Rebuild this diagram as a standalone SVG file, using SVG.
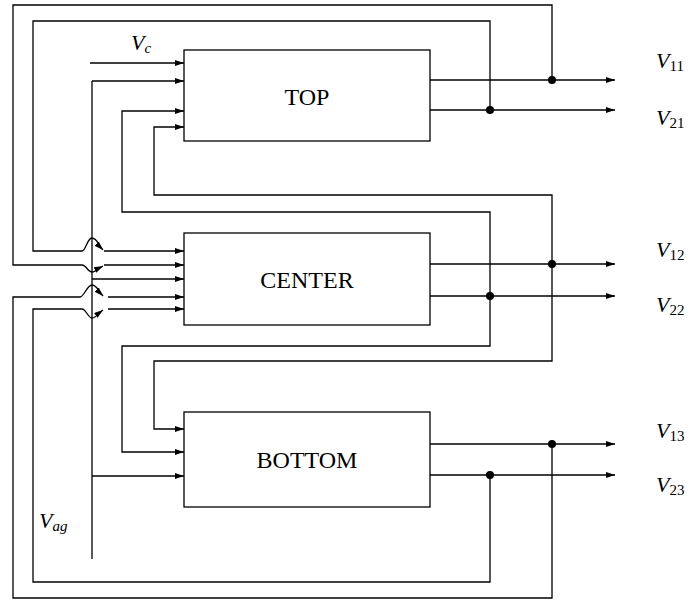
<svg xmlns="http://www.w3.org/2000/svg" width="693" height="601" viewBox="0 0 693 601">
<style>
.w{fill:none;stroke:#000;stroke-width:1.3}
.a{marker-end:url(#arr)}
.box{fill:#fff;stroke:#000;stroke-width:1.3}
.bt{font-family:"Liberation Serif",serif;font-size:24px;text-anchor:middle;fill:#000}
.v{font-family:"Liberation Serif",serif;font-size:22px;font-style:italic;fill:#000}
.s{font-size:15px;font-style:normal}
.si{font-size:15px;font-style:italic}
.d{fill:#000}
</style>
<defs>
<marker id="arr" markerUnits="userSpaceOnUse" markerWidth="10" markerHeight="8" refX="9" refY="3" orient="auto">
<path d="M0,0 L9,3 L0,6 z" fill="#000"/>
</marker>
</defs>
<rect width="693" height="601" fill="#fff"/>
<g id="connectors">
<path class="w a" d="M90,63 H184"/>
<path class="w" d="M92,559 V81"/>
<path class="w a" d="M92,81 H184"/>
<path class="w a" d="M92,279 H184"/>
<path class="w a" d="M92,476 H184"/>
<path class="w a" d="M430,80 H615"/>
<path class="w a" d="M430,110 H615"/>
<path class="w a" d="M430,264 H615"/>
<path class="w a" d="M430,296 H615"/>
<path class="w a" d="M430,444 H615"/>
<path class="w a" d="M430,475 H615"/>
<path class="w a" d="M552,80 V5 H13 V265 H82 C86,265 88,272 92,272 C96,272 99,268 103,266"/>
<path class="w a" d="M104,265 H184"/>
<path class="w a" d="M490,110 V21 H33 V251 H82 C86,251 87,238 92,238 C97,238 99,246 103,250"/>
<path class="w a" d="M104,251 H184"/>
<path class="w a" d="M552,264 V195 H154 V127 H184"/>
<path class="w a" d="M552,264 V361 H154 V429 H184"/>
<path class="w a" d="M490,296 V212 H122 V111 H184"/>
<path class="w a" d="M490,296 V346 H122 V452 H184"/>
<path class="w a" d="M552,444 V598 H13 V297 H80 C84,297 87,285 92,285 C97,285 99,292 103,296"/>
<path class="w a" d="M108,297 H184"/>
<path class="w a" d="M490,475 V582 H33 V309 H82 C86,309 88,318 92,318 C96,318 99,313 103,310"/>
<path class="w a" d="M108,309 H184"/>
<circle class="d" cx="552" cy="80" r="4"/>
<circle class="d" cx="490" cy="110" r="4"/>
<circle class="d" cx="552" cy="264" r="4"/>
<circle class="d" cx="490" cy="296" r="4"/>
<circle class="d" cx="552" cy="444" r="4"/>
<circle class="d" cx="490" cy="475" r="4"/>
</g>
<g id="top">
<rect class="box" x="184" y="50" width="246" height="91"/>
<text class="bt" x="307" y="105">TOP</text>
</g>
<g id="center">
<rect class="box" x="184" y="233" width="246" height="92"/>
<text class="bt" x="307" y="288">CENTER</text>
</g>
<g id="bottom">
<rect class="box" x="184" y="412" width="246" height="95"/>
<text class="bt" x="307" y="468">BOTTOM</text>
</g>
<g id="labels">
<text class="v" x="131" y="50">V<tspan class="si" dy="3">c</tspan></text>
<text class="v" x="39" y="528">V<tspan class="si" dy="3">ag</tspan></text>
<text class="v" x="656" y="68">V<tspan class="s" dy="3">11</tspan></text>
<text class="v" x="656" y="125">V<tspan class="s" dy="3">21</tspan></text>
<text class="v" x="656" y="257">V<tspan class="s" dy="3">12</tspan></text>
<text class="v" x="656" y="312">V<tspan class="s" dy="3">22</tspan></text>
<text class="v" x="656" y="438">V<tspan class="s" dy="3">13</tspan></text>
<text class="v" x="656" y="492">V<tspan class="s" dy="3">23</tspan></text>
</g>
</svg>
